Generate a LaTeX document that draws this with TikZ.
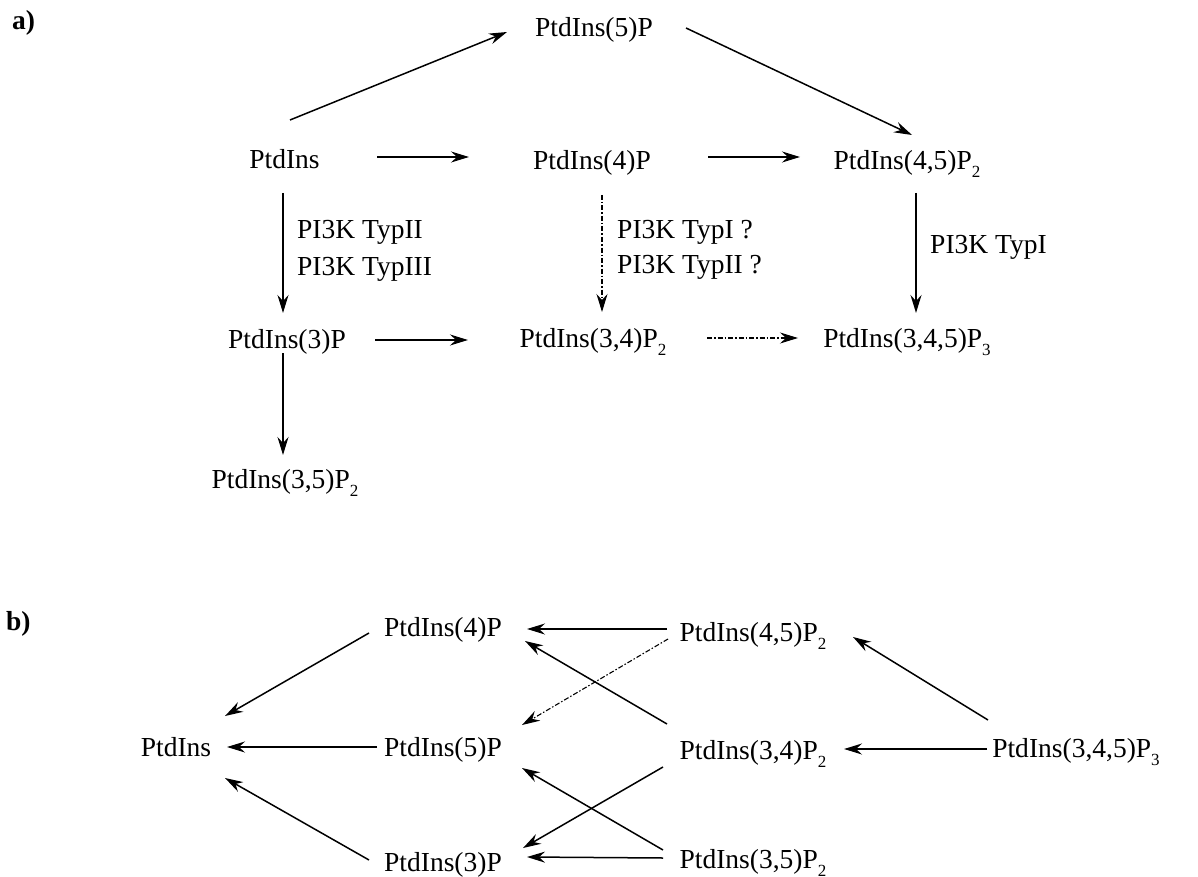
\documentclass[tikz,border=0pt]{standalone}
\usepackage{fontspec}
\setmainfont{Liberation Serif}
\usetikzlibrary{arrows.meta}
\newcommand\subtwo[1]{\raisebox{-8pt}{\fontsize{17}{17}\selectfont #1}}
\begin{document}
\begin{tikzpicture}[x=1pt,y=-1pt,
  lbl/.style={anchor=base,inner sep=0pt,font=\fontsize{27.5}{33}\selectfont},
  note/.style={anchor=base west,inner sep=0pt,font=\fontsize{27.5}{33}\selectfont},
  tag/.style={anchor=base west,inner sep=0pt,font=\fontsize{27.5}{33}\selectfont\bfseries},
  arr/.style={line width=1.5pt,-{Stealth[length=18pt,width=11pt,inset=6pt]}},
  dd/.style={arr,line width=1.1pt,dash pattern=on 5pt off 2pt on 1.5pt off 2pt}]
\useasboundingbox (0,0) rectangle (1198,877);
% ---- a) ----
\node[tag] (la) at (12,30) {a)};
\node[lbl] (a5) at (594,37) {PtdIns(5)P};
\node[lbl] (a0) at (284.5,169) {PtdIns};
\node[lbl] (a4) at (592,170) {PtdIns(4)P};
\node[lbl] (a45) at (907,170) {PtdIns(4,5)P\subtwo{2}};
\node[lbl] (a3) at (287,348) {PtdIns(3)P};
\node[lbl] (a34) at (593,347) {PtdIns(3,4)P\subtwo{2}};
\node[lbl] (a345) at (907,347) {PtdIns(3,4,5)P\subtwo{3}};
\node[lbl] (a35) at (285,488) {PtdIns(3,5)P\subtwo{2}};
\node[note] (n1) at (297,238) {PI3K TypII};
\node[note] (n2) at (297,275) {PI3K TypIII};
\node[note] (n3) at (617,238) {PI3K TypI ?};
\node[note] (n4) at (617,273) {PI3K TypII ?};
\node[note] (n5) at (930,253) {PI3K TypI};
\draw[arr] ([shift={(5.5,-49)}]a0.base) -- ([shift={(-87,-5)}]a5.base);
\draw[arr] ([shift={(92,-9)}]a5.base) -- ([shift={(5,-35)}]a45.base);
\draw[arr] ([shift={(92.5,-12)}]a0.base) -- ([shift={(-123,-13)}]a4.base);
\draw[arr] ([shift={(116,-13)}]a4.base) -- ([shift={(-107,-13)}]a45.base);
\draw[arr] ([shift={(9,23)}]a45.base) -- ([shift={(9,-34)}]a345.base);
\draw[arr] ([shift={(-1.5,24)}]a0.base) -- ([shift={(-4,-35)}]a3.base);
\draw[dd] ([shift={(10,25)}]a4.base) -- ([shift={(9,-35)}]a34.base);
\draw[arr] ([shift={(88,-8)}]a3.base) -- ([shift={(-125,-7)}]a34.base);
\draw[dd] ([shift={(114,-9)}]a34.base) -- ([shift={(-109,-9)}]a345.base);
\draw[arr] ([shift={(-4,5)}]a3.base) -- ([shift={(-2,-33)}]a35.base);
% ---- b) ----
\node[tag] (lb) at (6,630) {b)};
\node[lbl] (b4) at (443,636) {PtdIns(4)P};
\node[lbl] (b45) at (753,641) {PtdIns(4,5)P\subtwo{2}};
\node[lbl] (b0) at (176,756) {PtdIns};
\node[lbl] (b5) at (443,756) {PtdIns(5)P};
\node[lbl] (b34) at (753,759) {PtdIns(3,4)P\subtwo{2}};
\node[lbl] (b345) at (1076,757) {PtdIns(3,4,5)P\subtwo{3}};
\node[lbl] (b3) at (443,871) {PtdIns(3)P};
\node[lbl] (b35) at (753,868) {PtdIns(3,5)P\subtwo{2}};
\draw[arr] ([shift={(-74,-3)}]b4.base) -- ([shift={(49,-40)}]b0.base);
\draw[arr] ([shift={(-66,-9)}]b5.base) -- ([shift={(51,-9)}]b0.base);
\draw[arr] ([shift={(-74,-11)}]b3.base) -- ([shift={(49,22)}]b0.base);
\draw[arr] ([shift={(-86,-12)}]b45.base) -- ([shift={(84,-7)}]b4.base);
\draw[dd] ([shift={(-85,-2)}]b45.base) -- ([shift={(79,-31)}]b5.base);
\draw[arr] ([shift={(-86,-35)}]b34.base) -- ([shift={(82,5)}]b4.base);
\draw[arr] ([shift={(-90,8)}]b34.base) -- ([shift={(80,-23)}]b3.base);
\draw[arr] ([shift={(-90,-18)}]b35.base) -- ([shift={(79,12)}]b5.base);
\draw[arr] ([shift={(-90,-10)}]b35.base) -- ([shift={(84,-14)}]b3.base);
\draw[arr] ([shift={(-88,-37)}]b345.base) -- ([shift={(100,-4)}]b45.base);
\draw[arr] ([shift={(-89,-8)}]b345.base) -- ([shift={(91,-10)}]b34.base);
\end{tikzpicture}
\end{document}
